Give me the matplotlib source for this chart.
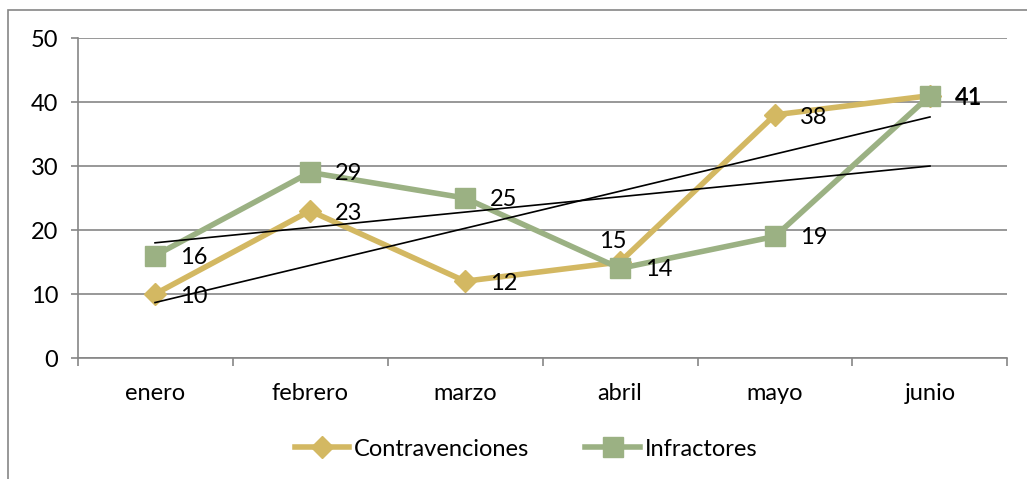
import numpy as np
import matplotlib.pyplot as plt
from matplotlib.patches import Rectangle

meses = ["enero", "febrero", "marzo", "abril", "mayo", "junio"]
contravenciones = [10, 23, 12, 15, 38, 41]
infractores = [16, 29, 25, 14, 19, 41]

col_contra = "#D3B862"
col_infra = "#9BB183"
col_grid = "#868686"
fs = 17

plt.rcParams['font.family'] = ['Lato', 'DejaVu Sans']

fig = plt.figure(figsize=(10.27, 4.79), dpi=100)
ax = fig.add_axes([0.0755, 0.2526, 0.9055, 0.668])

# outer chart frame (only the top and left edges fall inside the image)
fig.patches.append(Rectangle((8 / 1027, -0.1), 1.2, 1 - 10 / 479 + 0.1,
                             transform=fig.transFigure, fill=False,
                             edgecolor=col_grid, linewidth=1.2))

x = np.arange(len(meses))

ax.plot(x, contravenciones, color=col_contra, linewidth=4, marker="D",
        markersize=11, label="Contravenciones", zorder=3)
ax.plot(x, infractores, color=col_infra, linewidth=4, marker="s",
        markersize=14, label="Infractores", zorder=4)

# linear trend lines for both series
for serie in (contravenciones, infractores):
    m, b = np.polyfit(x, serie, 1)
    ax.plot(x, m * x + b, color="black", linewidth=1.2, zorder=5)

# data labels
for i, v in enumerate(contravenciones):
    if meses[i] == "abril":
        ax.annotate(str(v), (i, v), xytext=(-5, 15), textcoords="offset points",
                    ha="center", va="center", fontsize=fs, zorder=6)
    else:
        ax.annotate(str(v), (i, v), xytext=(18, -2), textcoords="offset points",
                    ha="left", va="center", fontsize=fs, zorder=6)
for i, v in enumerate(infractores):
    ax.annotate(str(v), (i, v), xytext=(18, -1), textcoords="offset points",
                ha="left", va="center", fontsize=fs, zorder=6)

ax.set_xlim(-0.5, len(meses) - 0.5)
ax.set_ylim(0, 50)
ax.set_yticks(range(0, 51, 10))
ax.set_xticks(x)
ax.set_xticklabels(meses)
ax.set_xticks(np.arange(-0.5, len(meses), 1), minor=True)
ax.tick_params(axis="x", which="major", length=0, pad=18, labelsize=fs)
ax.tick_params(axis="x", which="minor", length=6, color=col_grid, width=1.2)
ax.tick_params(axis="y", length=5, color=col_grid, width=1.2, labelsize=fs, pad=9)

ax.grid(axis="y", color=col_grid, linewidth=1.2)
ax.set_axisbelow(True)
for s in ("top", "right"):
    ax.spines[s].set_visible(False)
ax.spines["left"].set_color(col_grid)
ax.spines["bottom"].set_color(col_grid)
ax.spines["left"].set_linewidth(1.2)
ax.spines["bottom"].set_linewidth(1.2)

fig.legend(loc="center", bbox_to_anchor=(0.512, 1 - 449 / 479), ncol=2,
           frameon=False, fontsize=fs, handlelength=2.3, columnspacing=2.4,
           handletextpad=0.2)

fig.savefig("out.png", dpi=100)
